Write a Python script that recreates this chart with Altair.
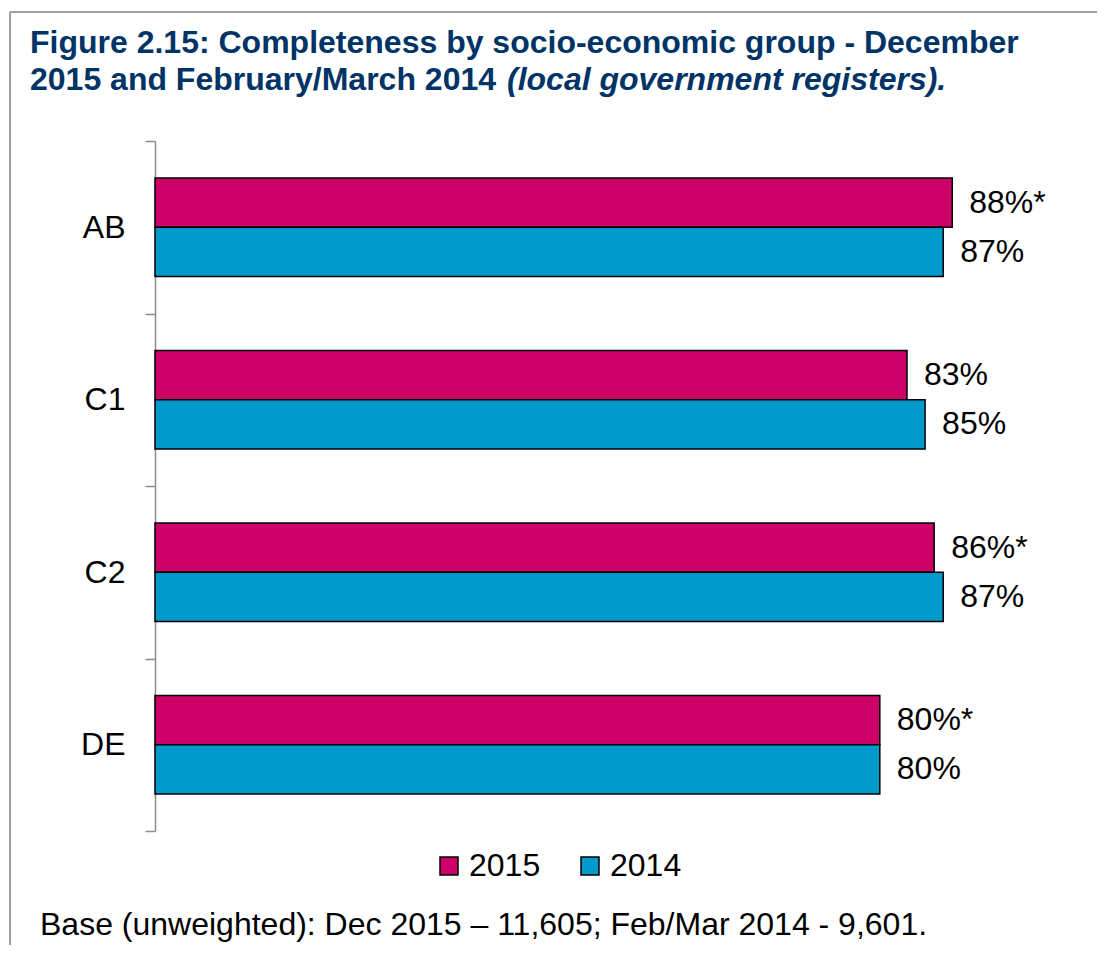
import altair as alt
import pandas as pd

groups = ["AB", "C1", "C2", "DE"]
years = ["2015", "2014"]
v2015 = [88, 83, 86, 80]
v2014 = [87, 85, 87, 80]
lab2015 = ["88%*", "83%", "86%*", "80%*"]
lab2014 = ["87%", "85%", "87%", "80%"]

title1 = "Figure 2.15: Completeness by socio-economic group - December"
title2a = "2015 and February/March 2014"
title2b = "(local government registers)."
footer = "Base (unweighted): Dec 2015 \u2013 11,605; Feb/Mar 2014 - 9,601."

rows = []
for g, a, b, la, lb in zip(groups, v2015, v2014, lab2015, lab2014):
    rows.append({"group": g, "year": "2015", "value": a, "label": la})
    rows.append({"group": g, "year": "2014", "value": b, "label": lb})
df = pd.DataFrame(rows)

FONT = "Liberation Sans"
TITLE_COLOR = "#003366"
FS = 32

y_enc = alt.Y(
    "group:N", sort=groups,
    scale=alt.Scale(paddingInner=0, paddingOuter=0),
    axis=alt.Axis(title=None, tickBand="extent", labelFontSize=FS, labelFont=FONT,
                  labelColor="black", labelPadding=20, tickSize=10, tickColor="#8c8c8c",
                  domainColor="#8c8c8c", tickWidth=1.5, domainWidth=1.5),
)
yoff_enc = alt.YOffset("year:N", sort=years, scale=alt.Scale(paddingOuter=0.75, paddingInner=0))
x_enc = alt.X("value:Q", scale=alt.Scale(domain=[0, 100]), axis=None)

base = alt.Chart(df)
bars = base.mark_bar(stroke="black", strokeWidth=1.5).encode(
    y=y_enc, yOffset=yoff_enc, x=x_enc,
    color=alt.Color(
        "year:N", sort=years,
        scale=alt.Scale(domain=years, range=["#CC0066", "#0099CC"]),
        legend=alt.Legend(orient="none", legendX=278, legendY=709, direction="horizontal",
                          title=None, symbolType="square", symbolSize=324,
                          symbolStrokeColor="black", symbolStrokeWidth=1.5,
                          labelFontSize=FS, labelFont=FONT, labelColor="black",
                          columnPadding=33, labelOffset=4, symbolOpacity=1),
    ),
)
texts = base.mark_text(align="left", baseline="middle", dx=17, fontSize=FS, font=FONT,
                       color="black").encode(
    y=alt.Y("group:N", sort=groups), yOffset=yoff_enc, x=x_enc, text="label:N"
)

one = pd.DataFrame({"t": [title1], "t2a": [title2a], "t2b": [title2b], "f": [footer]})
tb = alt.Chart(one)
t1 = tb.mark_text(align="left", baseline="alphabetic", fontSize=FS, font=FONT,
                  fontWeight="bold", color=TITLE_COLOR).encode(
    text="t:N", x=alt.value(-125), y=alt.value(-88))
t2a = tb.mark_text(align="left", baseline="alphabetic", fontSize=FS, font=FONT,
                   fontWeight="bold", color=TITLE_COLOR).encode(
    text="t2a:N", x=alt.value(-125), y=alt.value(-51))
t2b = tb.mark_text(align="left", baseline="alphabetic", fontSize=FS, font=FONT,
                   fontWeight="bold", fontStyle="italic", color=TITLE_COLOR).encode(
    text="t2b:N", x=alt.value(352), y=alt.value(-51))
ft = tb.mark_text(align="left", baseline="alphabetic", fontSize=FS, font=FONT,
                  color="black").encode(
    text="f:N", x=alt.value(-115), y=alt.value(794))

frame_top = tb.mark_rule(color="#a0a0a0", strokeWidth=2).encode(
    x=alt.value(-145), x2=alt.value(960), y=alt.value(-129))
frame_left = tb.mark_rule(color="#a0a0a0", strokeWidth=2).encode(
    x=alt.value(-145), y=alt.value(-129), y2=alt.value(830))

chart = alt.layer(bars, texts, t1, t2a, t2b, ft, frame_top, frame_left).properties(
    width=906, height=690,
    autosize=alt.AutoSizeParams(type="none"),
    padding={"left": 147, "top": 133, "right": 36, "bottom": 114},
    background="white",
).configure_view(stroke=None)

chart.save("out.html", embed_options={"renderer": "svg", "actions": False})
